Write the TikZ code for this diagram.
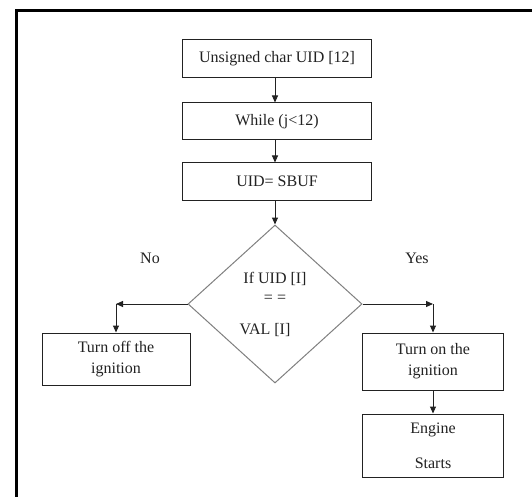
\documentclass[tikz,border=0pt]{standalone}
\usepackage{fontspec}
\setmainfont{Liberation Serif}
\usetikzlibrary{shapes.geometric,arrows.meta}
\definecolor{ink}{HTML}{222222}
\definecolor{dgrey}{HTML}{808080}
\tikzset{
  box/.style={draw=ink, line width=1pt, inner sep=0pt, minimum width=189pt, minimum height=37pt,
              font=\fontsize{16}{21}\selectfont, text=ink, align=center},
  lbl/.style={inner sep=0pt, font=\fontsize{16}{21}\selectfont, text=ink},
  arr/.style={draw=ink, line width=1pt, -{Triangle[length=7pt,width=6pt]}},
  plain/.style={draw=ink, line width=1pt},
}
\begin{document}
\begin{tikzpicture}[x=1pt,y=-1pt]
\useasboundingbox (0,0) rectangle (532,497);
\fill[white] (0,0) rectangle (532,497);
% frame
\draw[line width=3pt, black] (16,497) -- (16,11) -- (532,11);
% top boxes
\node[box, minimum height=38pt] (b1) at (277,59) {Unsigned char UID [12]};
\node[box] (b2) at (277,121.5) {While (j<12)};
\node[box] (b3) at (277,181.5) {UID= SBUF};
% diamond
\node[diamond, draw=dgrey, line width=1pt, minimum width=174pt, minimum height=158pt, inner sep=0pt] (dia) at (275,304) {};
\node[lbl] (t1) at (275,279) {If UID [I]};
\node[lbl] (t2) at (275,299) {= =};
\node[lbl] (t3) at (265,330) {VAL [I]};
% labels
\node[lbl] (no) at (150,258) {No};
\node[lbl] (yes) at (417,258) {Yes};
% bottom boxes
\node[box, minimum width=148pt, minimum height=52pt] (off) at (116,359) {Turn off the\\ignition};
\node[box, minimum width=141pt, minimum height=57pt] (on) at (433,361.5) {Turn on the\\ignition};
\node[box, minimum width=141pt, minimum height=63pt] (eng) at (433,445.5) {Engine\\[14pt]Starts};
% corner coordinates
\coordinate (cl) at (116,304);
\coordinate (cr) at (433,304);
% connectors
\draw[arr] (b1.south -| dia.north) -- (b2.north -| dia.north);
\draw[arr] (b2.south -| dia.north) -- (b3.north -| dia.north);
\draw[arr] (b3.south -| dia.north) -- (dia.north);
\draw[arr] (dia.west) -- (cl);
\draw[arr] (cl) -- (off.north);
\draw[arr] (dia.east) -- (cr);
\draw[arr] (cr) -- (on.north);
\draw[arr] (on.south) -- (eng.north);
\end{tikzpicture}
\end{document}
